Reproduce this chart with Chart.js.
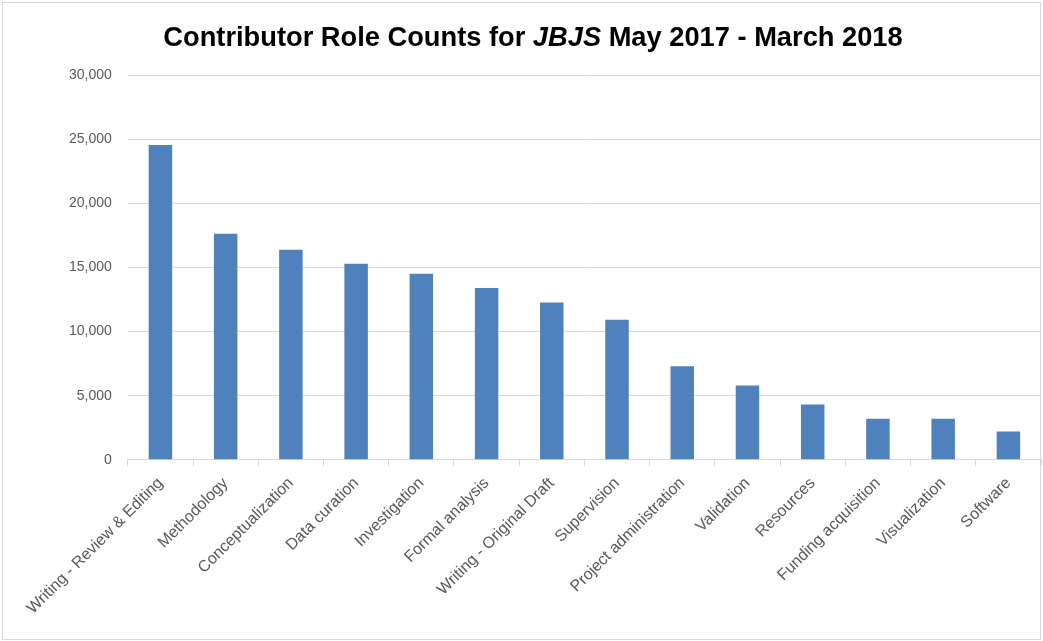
<!DOCTYPE html>
<html>
<head>
<meta charset="utf-8">
<script src="https://cdn.jsdelivr.net/npm/chart.js@4"></script>
<style>
  body { margin: 0; background: #fff; }
  #wrap { position: relative; width: 1043px; height: 641px; }
  #frame { position: absolute; left: 2px; top: 2px; width: 1037px; height: 636px; border: 1px solid #d9d9d9; pointer-events: none; }
</style>
</head>
<body>
<div id="wrap">
  <canvas id="barChart" width="1043" height="641"></canvas>
  <div id="frame"></div>
</div>
<script>
var categories = ['Writing - Review & Editing', 'Methodology', 'Conceptualization', 'Data curation', 'Investigation',
    'Formal analysis', 'Writing - Original Draft', 'Supervision', 'Project administration', 'Validation',
    'Resources', 'Funding acquisition', 'Visualization', 'Software'];
var counts = [24540, 17630, 16380, 15290, 14510, 13390, 12270, 10920, 7300, 5800, 4310, 3200, 3200, 2210];
var yTicks = [0, 5000, 10000, 15000, 20000, 25000, 30000];
var titleParts = [['Contributor Role Counts for ', 'bold'], ['JBJS', 'italic bold'], [' May 2017 - March 2018', 'bold']];

// title with an italic journal name, drawn on the canvas
var titlePlugin = {
    id: 'mixedTitle',
    afterDraw: function (chart) {
        var c = chart.ctx;
        var family = '"Liberation Sans", Arial, sans-serif';
        var size = 28;
        var total = 0;
        c.save();
        titleParts.forEach(function (p) {
            c.font = p[1] + ' ' + size + 'px ' + family;
            total += c.measureText(p[0]).width;
        });
        size = size * 740 / total;
        total = 0;
        titleParts.forEach(function (p) {
            c.font = p[1] + ' ' + size + 'px ' + family;
            total += c.measureText(p[0]).width;
        });
        var x = 533 - total / 2;
        c.fillStyle = '#000';
        c.textBaseline = 'alphabetic';
        titleParts.forEach(function (p) {
            c.font = p[1] + ' ' + size + 'px ' + family;
            c.fillText(p[0], x, 46);
            x += c.measureText(p[0]).width;
        });
        c.restore();
    }
};

var ctx = document.getElementById('barChart').getContext('2d');
var chart = new Chart(ctx, {
    type: 'bar',
    data: {
        labels: categories,
        datasets: [{
            label: 'Contributor roles',
            backgroundColor: '#4f81bd',
            data: counts,
            barPercentage: 0.36,
            categoryPercentage: 1
        }]
    },
    options: {
        responsive: false,
        animation: false,
        layout: { padding: { top: 75, right: 2, left: 53, bottom: 15 } },
        plugins: {
            legend: { display: false },
            tooltip: { enabled: false }
        },
        scales: {
            x: {
                grid: { drawOnChartArea: false, color: '#d9d9d9', tickLength: 6 },
                border: { color: '#d9d9d9' },
                ticks: {
                    minRotation: 45, maxRotation: 45,
                    padding: 8,
                    color: '#595959',
                    font: { family: '"Liberation Sans", Arial, sans-serif', size: 16 }
                }
            },
            y: {
                min: 0, max: 30000,
                afterBuildTicks: function (axis) {
                    axis.ticks = yTicks.map(function (v) { return { value: v }; });
                },
                grid: { color: '#d9d9d9', drawTicks: false },
                border: { display: false },
                ticks: {
                    padding: 16,
                    color: '#595959',
                    font: { family: '"Liberation Sans", Arial, sans-serif', size: 14 },
                    callback: function (v) { return v.toLocaleString('en-US'); }
                }
            }
        }
    },
    plugins: [titlePlugin]
});
</script>
</body>
</html>
